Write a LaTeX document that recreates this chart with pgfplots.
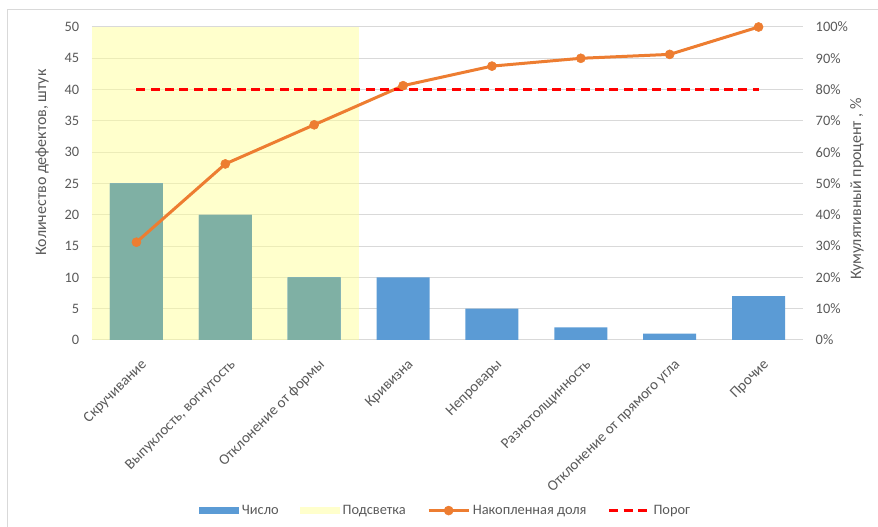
\documentclass[border=0pt]{standalone}
\usepackage{pgfplots}
\pgfplotsset{compat=1.18}
\usepackage{fontspec}
\setmainfont{Carlito}
\definecolor{barblue}{HTML}{5B9BD5}
\definecolor{barteal}{HTML}{7FB0A4}
\definecolor{hl}{HTML}{FFFF99}
\definecolor{hllight}{HTML}{FFFFCC}
\definecolor{lineor}{HTML}{ED7D31}
\definecolor{txt}{HTML}{595959}
\definecolor{grd}{HTML}{D9D9D9}
\pgfplotsset{
  rectlegend/.style={legend image code/.code={\fill[##1, draw=none] (0pt,-2.6pt) rectangle (30pt,2.6pt);}},
  linelegend/.style={legend image code/.code={\draw[mark repeat=2,mark phase=2,##1] plot coordinates {(0pt,0pt) (15pt,0pt) (30pt,0pt)};}},
}
\begin{document}
\begin{tikzpicture}
\useasboundingbox (0,0) rectangle (658.5pt,395.25pt);
\draw[grd, line width=0.75pt] (5.25pt,-10pt) rectangle (670pt,387.75pt);
\begin{axis}[
  at={(69pt,140.25pt)}, anchor=south west,
  scale only axis, width=533.25pt, height=234.75pt,
  xmin=-0.5, xmax=7.5, ymin=0, ymax=50,
  ytick={0,5,...,50},
  xtick={0,...,7},
  xticklabels={Скручивание, {Выпуклость, вогнутость}, Отклонение от формы, Кривизна, Непровары, Разнотолщинность, Отклонение от прямого угла, Прочие},
  x tick label style={rotate=45, anchor=north east, font=\fontsize{11.2}{12}\selectfont, text=txt, inner sep=0pt, xshift=-7.5pt, yshift=-11.5pt},
  y tick label style={font=\fontsize{10.8}{12}\selectfont, text=txt, xshift=-6pt},
  /pgf/number format/assume math mode=true,
  ymajorgrids, grid style={grd, line width=0.75pt},
  axis line style={draw=none}, major tick length=0pt,
  ylabel={Количество дефектов, штук},
  ylabel style={at={(axis description cs:-0.0703,0.567)}, anchor=center, font=\fontsize{12}{14}\selectfont, text=txt},
  clip=false,
]
\addplot[fill=hl, fill opacity=0.5, draw=none] coordinates {(-0.5,0) (-0.5,50) (2.5,50) (2.5,0)} -- cycle;
\addplot[ybar, bar width=39.75pt, fill=barblue, draw=none] coordinates {(0,25) (1,20) (2,10) (3,10) (4,5) (5,2) (6,1) (7,7)};
\addplot[ybar, bar width=39.75pt, fill=barteal, draw=none] coordinates {(0,25) (1,20) (2,10)};
\end{axis}
\begin{axis}[
  at={(69pt,140.25pt)}, anchor=south west,
  scale only axis, width=533.25pt, height=234.75pt,
  xmin=-0.5, xmax=7.5, ymin=0, ymax=100,
  xtick=\empty,
  ytick={0,10,...,100},
  yticklabel={\pgfmathprintnumber{\tick}\%},
  yticklabel pos=right,
  y tick label style={font=\fontsize{10.8}{12}\selectfont, text=txt, xshift=6pt},
  /pgf/number format/assume math mode=true,
  axis line style={draw=none}, major tick length=0pt,
  ylabel={Кумулятивный процент , \%},
  ylabel style={at={(axis description cs:1.076,0.482)}, anchor=center, rotate=0, font=\fontsize{12}{14}\selectfont, text=txt},
  clip=false,
  legend columns=4,
  legend style={at={(axis description cs:0.498,-0.545)}, anchor=center, draw=none, fill=none,
    font=\fontsize{10.8}{12}\selectfont, text=txt,
    /tikz/every even column/.append style={column sep=14pt}},
  legend cell align=left,
]
\addlegendimage{rectlegend, fill=barblue}
\addlegendentry{Число}
\addlegendimage{rectlegend, fill=hllight}
\addlegendentry{Подсветка}
\addplot[linelegend, lineor, line width=2.25pt, mark=*, mark size=3.4pt, mark options={solid, fill=lineor, draw=lineor, line width=0.4pt}] coordinates {(0,31.25) (1,56.25) (2,68.75) (3,81.25) (4,87.5) (5,90) (6,91.25) (7,100)};
\addlegendentry{Накопленная доля}
\addplot[linelegend, red, line width=2.25pt, dash pattern=on 6.75pt off 4pt] coordinates {(0,80) (7,80)};
\addlegendentry{Порог}
\end{axis}
\end{tikzpicture}
\end{document}
